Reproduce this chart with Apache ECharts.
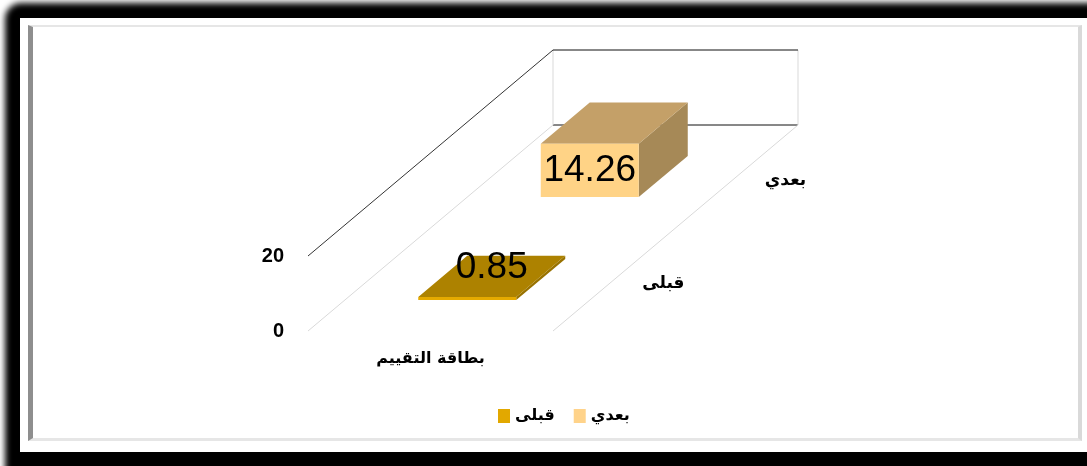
<!DOCTYPE html>
<html>
<head>
<meta charset="utf-8">
<script src="https://cdn.jsdelivr.net/npm/echarts@6/dist/echarts.min.js"></script>
<style>
  html, body { margin: 0; padding: 0; width: 1087px; height: 466px; overflow: hidden; background: #fff; }
  .shadow { position: absolute; left: 5px; top: 3px; width: 1120px; height: 500px; background: #000; border-radius: 16px; filter: blur(3px); }
  .paper { position: absolute; left: 20px; top: 18px; width: 1080px; height: 434px; background: #fff; }
  .inset {
    position: absolute; left: 28px; top: 25px; width: 1054px; height: 416px; box-sizing: border-box;
    border-left: 5px solid #8e8e8e; border-top: 2px solid #e6e6e6;
    border-right: 4px solid #d9d9d9; border-bottom: 3px solid #e6e6e6;
  }
  #chart { position: absolute; left: 0; top: 0; width: 1087px; height: 466px; }
</style>
</head>
<body>
<div class="shadow"></div>
<div class="paper"></div>
<div class="inset"></div>
<div id="chart"></div>
<script>
// data
const categories = ['بطاقة التقييم']
const seriesNames = ['قبلى', 'بعدي']   // front row, back row
const beforeValues = [0.85]
const afterValues = [14.26]
const valueTicks = [0, 20]

// fake 3d look
const DEPTH = [245, -206]   // px shift from front plane to back wall
const BAR_WIDTH = 0.4       // share of category band
const BAR_DEPTH = 0.2       // share of full depth
const ROWS = seriesNames.length

const faces = {
  'قبلى': { front: '#E5AA00', top: '#AD8200', side: '#987200' },
  'بعدي': { front: '#FFD386', top: '#C4A068', side: '#A68957' }
}

const font = 'DejaVu Sans'

function boxItem(row, name) {
  return function (params, api) {
    const base = api.coord([api.value(0), 0])
    const topP = api.coord([api.value(0), api.value(1)])
    const band = api.size([1, 0])[0]
    const w = band * BAR_WIDTH
    const d0 = (row + 0.5) / ROWS - BAR_DEPTH / 2
    const x0 = base[0] - w / 2 + DEPTH[0] * d0
    const x1 = x0 + w
    const yb = base[1] + DEPTH[1] * d0
    const yt = topP[1] + DEPTH[1] * d0
    const ddx = DEPTH[0] * BAR_DEPTH
    const ddy = DEPTH[1] * BAR_DEPTH
    const c = faces[name]
    const small = yb - yt < 20
    const lx = small ? (x0 + x1 + ddx) / 2 : (x0 + x1) / 2
    const ly = small ? yt + ddy / 2 - 9 : (yb + yt) / 2
    return {
      type: 'group',
      children: [
        { type: 'polygon', shape: { points: [[x1, yb], [x1 + ddx, yb + ddy], [x1 + ddx, yt + ddy], [x1, yt]] }, style: { fill: c.side } },
        { type: 'polygon', shape: { points: [[x0, yt], [x1, yt], [x1 + ddx, yt + ddy], [x0 + ddx, yt + ddy]] }, style: { fill: c.top } },
        { type: 'polygon', shape: { points: [[x0, yb], [x1, yb], [x1, yt], [x0, yt]] }, style: { fill: c.front } },
        {
          type: 'text', x: lx, y: ly, z2: 10,
          style: {
            text: api.value(1).toFixed(2), fill: '#000', align: 'center', verticalAlign: 'middle',
            font: '37px "Liberation Sans", Arial, sans-serif'
          }
        }
      ]
    }
  }
}

function wallItem(params, api) {
  const v = api.value(1)
  const p = api.coord([0, v])
  const band = api.size([1, 0])[0]
  const left = p[0] - band / 2
  const right = p[0] + band / 2
  const dark = v === valueTicks[valueTicks.length - 1]
  const children = [
    { type: 'line', shape: { x1: left, y1: p[1], x2: left + DEPTH[0], y2: p[1] + DEPTH[1] }, style: { stroke: dark ? '#333' : '#d9d9d9', lineWidth: 1 } },
    { type: 'line', shape: { x1: left + DEPTH[0], y1: p[1] + DEPTH[1], x2: right + DEPTH[0], y2: p[1] + DEPTH[1] }, style: { stroke: '#111', lineWidth: 1 } }
  ]
  if (params.dataIndex === 0) {
    const top = api.coord([0, valueTicks[valueTicks.length - 1]])[1]
    children.push(
      { type: 'line', shape: { x1: right, y1: p[1], x2: right + DEPTH[0], y2: p[1] + DEPTH[1] }, style: { stroke: '#d9d9d9', lineWidth: 1 } },
      { type: 'line', shape: { x1: left + DEPTH[0], y1: p[1] + DEPTH[1], x2: left + DEPTH[0], y2: top + DEPTH[1] }, style: { stroke: '#d9d9d9', lineWidth: 1 } },
      { type: 'line', shape: { x1: right + DEPTH[0], y1: p[1] + DEPTH[1], x2: right + DEPTH[0], y2: top + DEPTH[1] }, style: { stroke: '#d9d9d9', lineWidth: 1 } }
    )
    // depth axis labels
    seriesNames.forEach((n, i) => {
      const d = (i + 0.5) / ROWS
      children.push({
        type: 'text', x: right + DEPTH[0] * d + 28, y: p[1] + DEPTH[1] * d + 4,
        style: { text: n, fill: '#000', align: 'left', verticalAlign: 'middle', font: 'bold 17px "DejaVu Sans"' }
      })
    })
  }
  return { type: 'group', children: children }
}

const chart = echarts.init(document.getElementById('chart'))
const option = {
  animation: false,
  textStyle: { fontFamily: font },
  grid: { left: 308, right: 534, top: 256, bottom: 135 },
  legend: {
    data: seriesNames,
    left: 493,
    top: 403,
    icon: 'rect',
    itemWidth: 12,
    itemHeight: 14,
    itemGap: 19,
    textStyle: { fontFamily: font, fontWeight: 'bold', fontSize: 16, color: '#000' }
  },
  xAxis: {
    type: 'category',
    data: categories,
    axisLine: { show: false },
    axisTick: { show: false },
    axisLabel: { margin: 20, fontFamily: font, fontWeight: 'bold', fontSize: 16, color: '#000' }
  },
  yAxis: {
    type: 'value',
    min: 0,
    max: 20,
    interval: 20,
    axisLine: { show: false },
    axisTick: { show: false },
    splitLine: { show: false },
    axisLabel: { margin: 24, fontFamily: 'Liberation Sans', fontWeight: 'bold', fontSize: 20, color: '#000' }
  },
  series: [
    {
      name: 'walls',
      type: 'custom',
      renderItem: wallItem,
      data: valueTicks.map((v) => [0, v]),
      silent: true,
      z: 1
    },
    {
      name: seriesNames[1],
      type: 'custom',
      renderItem: boxItem(1, seriesNames[1]),
      itemStyle: { color: '#FFD38A' },
      data: afterValues.map((v, i) => [i, v]),
      z: 2
    },
    {
      name: seriesNames[0],
      type: 'custom',
      renderItem: boxItem(0, seriesNames[0]),
      itemStyle: { color: '#E2A800' },
      data: beforeValues.map((v, i) => [i, v]),
      z: 3
    }
  ]
}
chart.setOption(option)
</script>
</body>
</html>
